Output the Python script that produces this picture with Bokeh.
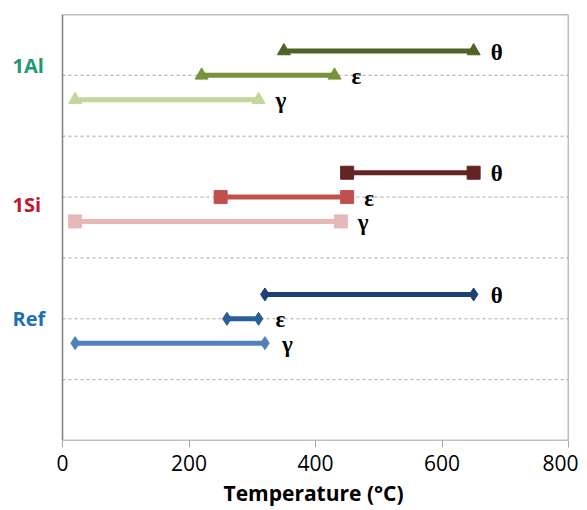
from bokeh.plotting import figure
from bokeh.models import FixedTicker, ColumnDataSource, Title
from bokeh.core.properties import value
from bokeh.embed import file_html
from bokeh.resources import INLINE

# ---- data ----
groups = ["1Al", "1Al", "1Al", "1Si", "1Si", "1Si", "Ref", "Ref", "Ref"]
phases = ["θ", "ε", "γ", "θ", "ε", "γ", "θ", "ε", "γ"]
starts = [350, 220, 20, 450, 250, 20, 320, 260, 20]
ends = [650, 430, 310, 650, 450, 440, 650, 310, 320]
colors = ["#4F6228", "#77933C", "#C3D69B",
          "#632523", "#C0504D", "#E6B9B8",
          "#1F3F77", "#2E5E9A", "#4F81BD"]
markers = ["triangle"] * 3 + ["square"] * 3 + ["diamond"] * 3
category_names = ["1Al", "1Si", "Ref"]
category_colors = ["#1B9A70", "#C0182E", "#1F6FB5"]
x_ticks = [0, 200, 400, 600, 800]
x_min, x_max = 0, 800
x_title = "Temperature (°C)"

# layout helpers
group_pos = {"1Al": 6, "1Si": 4, "Ref": 2}
label_nudge = {"1Al": 0.16, "1Si": -0.12, "Ref": 0.0}
phase_off = {"θ": 0.4, "ε": 0.0, "γ": -0.4}
grid_ys = [1, 2, 3, 4, 5, 6]
ys = [group_pos[g] + phase_off[ph] for g, ph in zip(groups, phases)]

# frame extended to the left so the category labels live inside it
left_pad_px = 54
frame_w = 506
units_per_px = (x_max - x_min) / frame_w
x_lo = x_min - left_pad_px * units_per_px
p = figure(frame_width=frame_w + left_pad_px, frame_height=426,
           x_range=(x_lo, x_max), y_range=(0, 7),
           output_backend="svg", toolbar_location=None,
           min_border_left=8, min_border_top=14, min_border_right=10,
           min_border_bottom=0)

p.background_fill_color = "white"
p.border_fill_color = "white"
p.outline_line_color = None

p.xgrid.visible = False
p.ygrid.visible = False
p.yaxis.visible = False

# dashed horizontal gridlines inside the plot box
p.segment(x0=[x_min] * len(grid_ys), x1=[x_max] * len(grid_ys),
          y0=grid_ys, y1=grid_ys, line_color="#A6A6A6",
          line_dash="3 3", line_width=1)
# plot box
p.quad(left=[x_min], right=[x_max], bottom=[0], top=[7], fill_color=None,
       line_color="#7F7F7F", line_width=1.5)

p.xaxis.ticker = FixedTicker(ticks=x_ticks)
p.xaxis.axis_line_color = None
p.xaxis.major_tick_line_color = "#A6A6A6"
p.xaxis.major_tick_out = 7
p.xaxis.major_tick_in = 0
p.xaxis.minor_tick_line_color = None
p.xaxis.major_label_text_font = "Open Sans"
p.xaxis.major_label_text_font_size = "21px"
p.xaxis.major_label_text_color = "black"
p.xaxis.major_label_standoff = 7

p.add_layout(Title(text=x_title, align="left", offset=215,
                   text_font="Open Sans", text_font_style="bold",
                   text_font_size="21px", text_color="black",
                   standoff=6), "below")

src = ColumnDataSource(dict(x0=starts, x1=ends, y=ys, color=colors,
                            marker=markers, phase=phases))
p.segment(x0="x0", y0="y", x1="x1", y1="y", line_color="color",
          line_width=5, source=src)
p.scatter(x="x0", y="y", marker="marker", size=13, fill_color="color",
          line_color="color", source=src)
p.scatter(x="x1", y="y", marker="marker", size=13, fill_color="color",
          line_color="color", source=src)
p.text(x="x1", y="y", text="phase", x_offset=17, y_offset=1,
       text_align="left", text_baseline="middle",
       text_font=value("Liberation Serif"), text_font_style="bold",
       text_font_size="23px", text_color="black", source=src)

cat_src = ColumnDataSource(dict(
    x=[x_min] * 3,
    y=[group_pos[n] + label_nudge[n] for n in category_names],
    text=category_names, color=category_colors))
p.text(x="x", y="y", text="text", x_offset=-50, text_align="left",
       text_baseline="middle", text_font=value("Open Sans"),
       text_font_style="bold", text_font_size="20px", text_color="color",
       source=cat_src)

open("out.html", "w").write(file_html(p, INLINE))
